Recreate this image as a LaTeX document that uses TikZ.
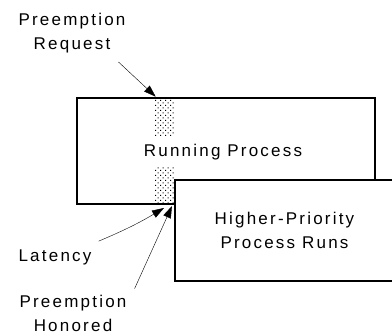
\documentclass[tikz,border=0pt]{standalone}
\usepackage{fontspec}
\setmainfont{Liberation Sans}[LetterSpace=13]
\usetikzlibrary{arrows.meta,patterns}

% sparse stipple for the switch-over strip
\pgfdeclarepatternformonly{stipple}{\pgfqpoint{-1pt}{-1pt}}{\pgfqpoint{6pt}{6pt}}{\pgfqpoint{5pt}{5pt}}{
    \pgfpathrectangle{\pgfqpoint{0pt}{0pt}}{\pgfqpoint{1.1pt}{1.1pt}}
    \pgfpathrectangle{\pgfqpoint{2.5pt}{2.5pt}}{\pgfqpoint{1.1pt}{1.1pt}}
    \pgfusepath{fill}}

\begin{document}
\begin{tikzpicture}[x=1pt, y=-1pt, >={Triangle[length=12pt,width=8pt]},
    lbl/.style={font=\fontsize{17}{24}\selectfont, align=center, inner sep=1pt},
    proc/.style={draw, line width=2.6pt, fill=white, inner sep=0pt}]

    \useasboundingbox (0,0) rectangle (392,336);
    \clip (0,0) rectangle (392,336);

    % the process that gets preempted
    \node[proc, minimum width=298, minimum height=106] (running) at (226,151) {};
    \fill[pattern=stipple] (155,99) rectangle (174,137);
    \fill[pattern=stipple] (155,167) rectangle (174,203);
    \node[lbl] (runtext) at (223,152) {Running Process};

    % the one that takes over, runs off the right side
    \node[proc, lbl, line width=2.6pt, minimum width=219, minimum height=101] (higher) at (284.5,230.5)
        {Higher-Priority\\Process Runs};

    \node[lbl] (request) at (72,33) {Preemption\\Request};
    \node[lbl] (latency) at (55,257) {Latency};
    \node[lbl] (honored) at (73,313) {Preemption\\Honored};

    \coordinate (reqtip) at ([xshift=80]running.north west);
    \coordinate (lattip) at (164,208);
    \coordinate (hontip) at (172,206);

    \draw[->] ([shift={(-8,8)}]request.south east) -- (reqtip);
    \draw[->] ([shift={(6,-7)}]latency.north east) to[bend right=4] (lattip);
    \draw[->] ([shift={(7,-5)}]honored.north east) -- (hontip);

\end{tikzpicture}
\end{document}
